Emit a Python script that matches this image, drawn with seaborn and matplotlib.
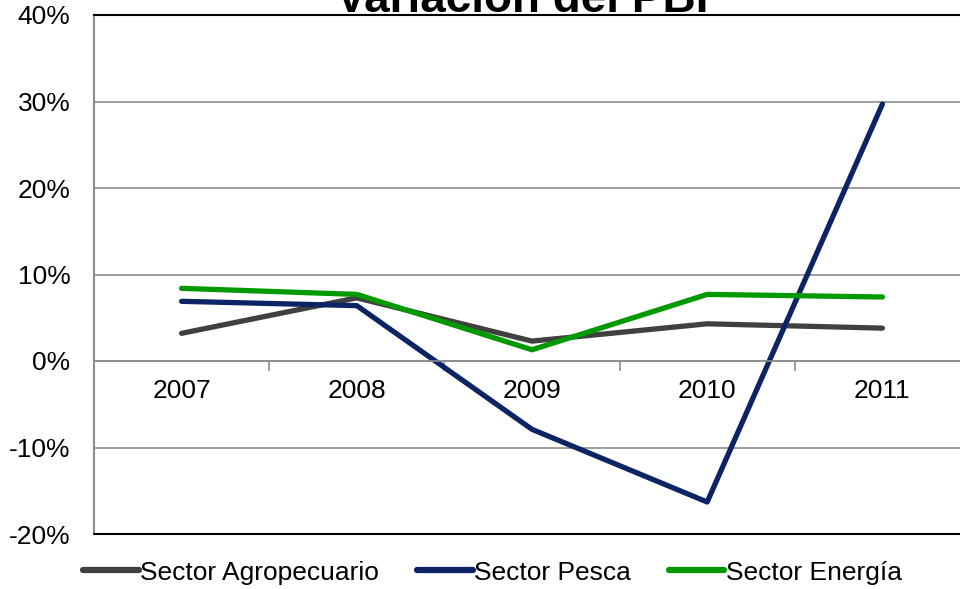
import matplotlib
matplotlib.use('Agg')
import matplotlib.pyplot as plt
import numpy as np
import pandas as pd
import seaborn as sns
from matplotlib.ticker import FuncFormatter, FixedLocator

YEARS = ['2007', '2008', '2009', '2010', '2011']
SERIES = ['Sector Agropecuario', 'Sector Pesca', 'Sector Energía']
AGRO = [3.2, 7.3, 2.3, 4.3, 3.8]
PESCA = [6.9, 6.4, -7.9, -16.3, 29.7]
ENERGIA = [8.4, 7.7, 1.3, 7.7, 7.4]
COLORS = ['#404040', '#0C2463', '#009A00']
Y_MIN, Y_MAX = -20, 40

df = pd.DataFrame({
    'year': YEARS * 3,
    'pos': list(range(len(YEARS))) * 3,
    'value': AGRO + PESCA + ENERGIA,
    'series': [s for s in SERIES for _ in YEARS],
})

sns.set_style('white')
plt.rcParams['font.family'] = ['Liberation Sans', 'DejaVu Sans']
plt.rcParams['text.color'] = 'black'
FS = 19

fig = plt.figure(figsize=(9.6, 5.89), dpi=100)
ax = fig.add_axes([94 / 960, 55 / 589, 876 / 960, 519 / 589])

sns.lineplot(data=df, x='pos', y='value', hue='series', palette=COLORS,
             linewidth=3.8, ax=ax, legend=True, sort=False)

ax.set_xlim(-0.5, len(YEARS) - 0.5)
ax.set_ylim(Y_MIN, Y_MAX)
ax.set_yticks(np.arange(Y_MIN, Y_MAX + 1, 10))
ax.yaxis.set_major_formatter(FuncFormatter(lambda v, _: f'{v:.0f}%'))
ax.yaxis.grid(True, color='#8c8c8c', linewidth=1.2)
ax.set_axisbelow(True)

ax.set_xticks(range(len(YEARS)))
ax.set_xticklabels(YEARS)
ax.xaxis.set_minor_locator(FixedLocator(np.arange(0.5, len(YEARS) - 0.5, 1)))
ax.tick_params(axis='x', which='major', length=0, pad=13, labelsize=FS, labelcolor='black')
ax.tick_params(axis='x', which='minor', length=7, width=1.2, color='#8c8c8c', direction='out')
ax.tick_params(axis='y', length=7, width=1.2, color='#8c8c8c', direction='out',
               labelsize=FS, labelcolor='black', pad=10)
ax.tick_params(axis='x', bottom=True, which='both')

ax.spines['bottom'].set_position(('data', 0))
ax.spines['bottom'].set_color('#8c8c8c')
ax.spines['bottom'].set_linewidth(1.2)
ax.spines['left'].set_color('#8c8c8c')
ax.spines['left'].set_linewidth(1.5)
ax.spines['top'].set_color('black')
ax.spines['top'].set_linewidth(1.5)
ax.spines['right'].set_visible(False)
ax.axhline(Y_MIN, color='black', linewidth=1.5, zorder=3, clip_on=False)

ax.set_xlabel('')
ax.set_ylabel('')

handles, labels = ax.get_legend_handles_labels()
ax.get_legend().remove()
for h in handles:
    h.set_linewidth(4.5)
leg = fig.legend(handles, labels, loc='center', bbox_to_anchor=(0.513, 0.028), ncol=3,
                 frameon=False, fontsize=FS, handlelength=2.1, handletextpad=0.05,
                 columnspacing=1.45)
for t in leg.get_texts():
    t.set_color('black')

fig.text(0.544, 1 - 12 / 589, 'Variación del PBI', ha='center', va='baseline',
         fontsize=33, fontweight='bold', color='black')

fig.savefig('out.png', dpi=100)
